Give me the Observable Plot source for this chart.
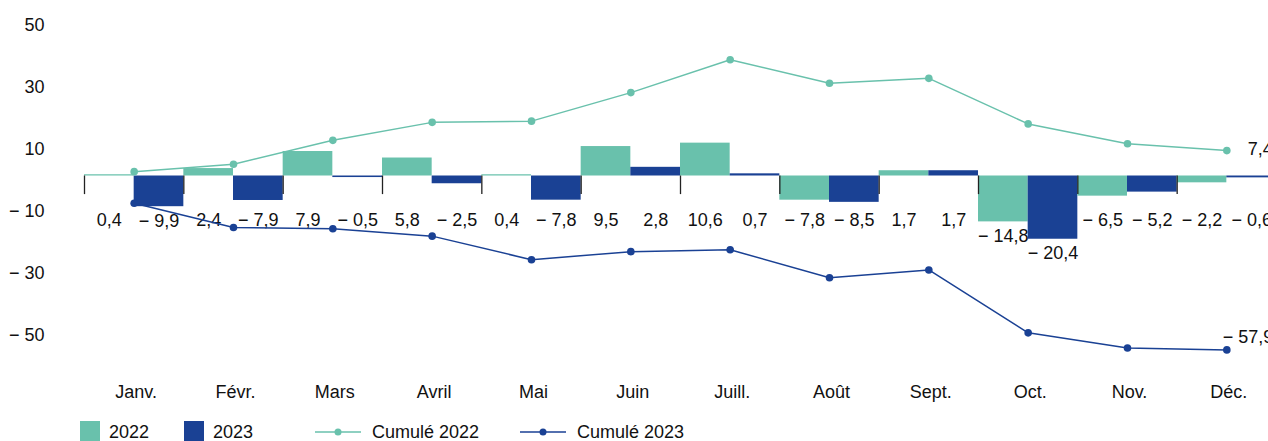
<!DOCTYPE html>
<html><head><meta charset="utf-8">
<script src="https://cdn.jsdelivr.net/npm/d3@7"></script>
<script src="https://cdn.jsdelivr.net/npm/@observablehq/plot@0.6"></script>
<style>
html,body{margin:0;padding:0;background:#fff;overflow:hidden;width:1268px;height:441px}
#chart svg{display:block}
.legend{position:relative;height:29px;font-family:"Liberation Sans",Arial,sans-serif;font-size:18px;color:#111}
.legend .sw{position:absolute;top:9px;width:20px;height:20px}
.legend .lb{position:absolute;top:10px;line-height:20px;white-space:nowrap}
.legend svg{position:absolute;top:10px}
</style></head><body>
<div id="chart"></div>
<div class="legend" id="legend"></div>
<script>
const months = ["Janv.","Févr.","Mars","Avril","Mai","Juin","Juill.","Août","Sept.","Oct.","Nov.","Déc."];
const values2022 = [0.4, 2.4, 7.9, 5.8, 0.4, 9.5, 10.6, -7.8, 1.7, -14.8, -6.5, -2.2];
const values2023 = [-9.9, -7.9, -0.5, -2.5, -7.8, 2.8, 0.7, -8.5, 1.7, -20.4, -5.2, -0.6];
const cumul2022 = [1.4, 3.8, 11.5, 17.3, 17.7, 26.9, 37.5, 29.9, 31.5, 16.8, 10.4, 8.2];
const cumul2023 = [-8.8, -16.6, -17.0, -19.4, -27.0, -24.4, -23.8, -32.8, -30.3, -50.6, -55.5, -56.1];
const totals = [7.4, -57.9];
const yTicks = [50, 30, 10, -10, -30, -50];
const seriesNames = ["2022", "2023", "Cumulé 2022", "Cumulé 2023"];

const teal = "#69c1ac", blue = "#1a4194";
const fmt = v => (v < 0 ? "\u2212 " : "") + Math.abs(v).toFixed(1).replace(".", ",");

const bars = [];
months.forEach((m, i) => {
  bars.push({i, m, year: "2022", v: values2022[i], x1: i, x2: i + 0.5});
  bars.push({i, m, year: "2023", v: values2023[i], x1: i + 0.5, x2: i + 1});
});
const c22 = cumul2022.map((v, i) => ({i, v}));
const c23 = cumul2023.map((v, i) => ({i, v}));

const chart = Plot.plot({
  width: 1268, height: 412,
  marginLeft: 84, marginRight: -8, marginTop: 5, marginBottom: 35,
  style: {fontFamily: "Liberation Sans, Arial, sans-serif", fontSize: "18px", color: "#111", background: "#fff", overflow: "hidden"},
  x: {domain: [0, 12], range: [84, 1276]},
  y: {domain: [-65, 55]},
  marks: [
    Plot.rectY(bars, {x1: "x1", x2: "x2", y1: 0, y2: "v", fill: d => d.year === "2022" ? teal : blue}),
    Plot.ruleX(d3.range(13), {x: d => d, y1: 0, y2: -6, stroke: "#222", strokeWidth: 1.3}),
    Plot.text(bars, {x: d => d.x1 + 0.25, y: d => Math.min(-14.35, Math.min(d.v, 0) - 4.6), text: d => fmt(d.v), fill: "#111"}),
    Plot.line(c22, {x: d => d.i + 0.5, y: "v", stroke: teal, strokeWidth: 1.5}),
    Plot.dot(c22, {x: d => d.i + 0.5, y: "v", r: 3.8, fill: teal}),
    Plot.line(c23, {x: d => d.i + 0.5, y: "v", stroke: blue, strokeWidth: 1.5}),
    Plot.dot(c23, {x: d => d.i + 0.5, y: "v", r: 3.8, fill: blue}),
    Plot.text([c22[11]], {x: d => d.i + 0.5, y: "v", text: () => fmt(totals[0]), textAnchor: "start", dx: 21, dy: -1, fill: "#111"}),
    Plot.text([c23[11]], {x: d => d.i + 0.5, y: "v", text: () => fmt(totals[1]), textAnchor: "start", dx: -4, dy: -13, fill: "#111"}),
    Plot.axisY(yTicks, {tickSize: 0, tickPadding: 40, dy: 4.5, tickFormat: d => (d < 0 ? "\u2212 " : "") + Math.abs(d), label: null}),
    Plot.axisX(months.map((m, i) => i + 0.5), {tickSize: 0, tickPadding: 8, dx: 2, tickFormat: d => months[Math.floor(d)], label: null})
  ]
});
document.getElementById("chart").appendChild(chart);

const lg = document.getElementById("legend");
lg.innerHTML = `
<div class="sw" style="left:80px;background:${teal}"></div><span class="lb" style="left:109px">${seriesNames[0]}</span>
<div class="sw" style="left:184px;background:${blue}"></div><span class="lb" style="left:213px">${seriesNames[1]}</span>
<svg width="46" height="20" style="left:315px"><line x1="0" x2="46" y1="10" y2="10" stroke="${teal}" stroke-width="1.5"/><circle cx="23" cy="10" r="3.5" fill="${teal}"/></svg><span class="lb" style="left:372px">${seriesNames[2]}</span>
<svg width="46" height="20" style="left:520px"><line x1="0" x2="46" y1="10" y2="10" stroke="${blue}" stroke-width="1.5"/><circle cx="23" cy="10" r="3.5" fill="${blue}"/></svg><span class="lb" style="left:577px">${seriesNames[3]}</span>`;
</script>
</body></html>
